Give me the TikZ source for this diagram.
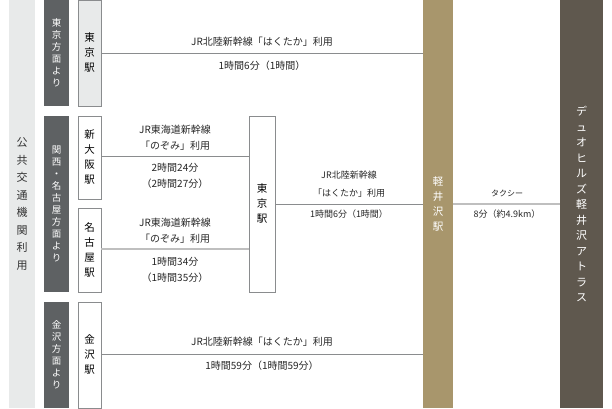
\documentclass[tikz,border=0pt]{standalone}
\usepackage{fontspec}
\setmainfont{Noto Sans CJK JP}
\usetikzlibrary{positioning}
\definecolor{palegray}{HTML}{E8EAEA}
\definecolor{slate}{HTML}{5E6163}
\definecolor{sand}{HTML}{A8966C}
\definecolor{umber}{HTML}{5F584E}
\definecolor{rule}{HTML}{8A8C8E}
\begin{document}
\begin{tikzpicture}[x=1bp,y=-1bp,inner sep=0pt]
 \tikzstyle{bar}=[draw=none,minimum width=26bp,align=center]
 \tikzstyle{area}=[fill=slate,text=white,minimum width=25bp,align=center,font=\fontsize{9.5bp}{12bp}\selectfont]
 \tikzstyle{stn}=[draw=rule,fill=white,minimum width=23bp,align=center,font=\fontsize{10.5bp}{15bp}\selectfont]
 \tikzstyle{lbl}=[align=center,text=black!85,font=\fontsize{10bp}{16bp}\selectfont]
 \tikzstyle{route}=[draw=rule,line width=0.8bp]
 \useasboundingbox (0,0) rectangle (612,408);

 \node (public) at (22,204) [bar,fill=palegray,minimum height=408bp,text=black!80,font=\fontsize{11bp}{17.5bp}\selectfont] {公\\共\\交\\通\\機\\関\\利\\用};

 \node (fromtokyo) at (56.5,53) [area,minimum height=106bp] {東\\京\\方\\面\\よ\\り};
 \node (fromkansai) at (56.5,204) [area,minimum height=176bp] {関\\西\\・\\名\\古\\屋\\方\\面\\よ\\り};
 \node (fromkanazawa) at (56.5,355) [area,minimum height=106bp] {金\\沢\\方\\面\\よ\\り};

 \node (tokyo) at (89.5,53) [stn,fill=palegray,minimum height=106bp] {東\\京\\駅};
 \node (osaka) at (89.5,157.5) [stn,minimum height=83bp] {新\\大\\阪\\駅};
 \node (nagoya) at (89.5,250) [stn,minimum height=84bp] {名\\古\\屋\\駅};
 \node (kanazawa) at (89.5,355) [stn,minimum height=106bp] {金\\沢\\駅};
 \node (tokyoT) at (262,204) [stn,minimum width=26bp,minimum height=176bp] {東\\京\\駅};

 \node (karuizawa) at (438,204) [bar,fill=sand,minimum width=30bp,minimum height=408bp,text=white,font=\fontsize{10.5bp}{15bp}\selectfont] {軽\\井\\沢\\駅};
 \node (atlas) at (581.5,204) [bar,fill=umber,minimum width=43bp,minimum height=408bp,text=white,font=\fontsize{11bp}{15.5bp}\selectfont] {デ\\ュ\\オ\\ヒ\\ル\\ズ\\軽\\井\\沢\\ア\\ト\\ラ\\ス};

 \draw [route] (tokyo.east) -- (tokyo.east -| karuizawa.west);
 \draw [route] (osaka.east |- 0,156) -- (tokyoT.west |- 0,156);
 \draw [route,draw=black!25,line width=1.2bp] (nagoya.east |- 0,249) -- (tokyoT.west |- 0,249);
 \draw [route] (tokyoT.east) -- (karuizawa.west);
 \draw [route,draw=black!25,line width=2bp] (karuizawa.east) -- (atlas.west);
 \draw [route] (kanazawa.east |- 0,354) -- (kanazawa.east |- 0,354 -| karuizawa.west);

 \node (l1) at (262,42) [lbl] {JR北陸新幹線「はくたか」利用};
 \node (t1) at (262,66) [lbl] {1時間6分（1時間）};
 \node (l2) at (175,138) [lbl] {JR東海道新幹線\\「のぞみ」利用};
 \node (t2) at (175,176) [lbl] {2時間24分\\（2時間27分）};
 \node (l3) at (175,231) [lbl] {JR東海道新幹線\\「のぞみ」利用};
 \node (t3) at (175,270) [lbl] {1時間34分\\（1時間35分）};
 \node (l4) at (349,184.5) [lbl,font=\fontsize{9bp}{18bp}\selectfont] {JR北陸新幹線\\「はくたか」利用};
 \node (t4) at (349,214) [lbl,font=\fontsize{9bp}{12bp}\selectfont] {1時間6分（1時間）};
 \node (l5) at (507,193) [lbl,font=\fontsize{8bp}{10bp}\itshape] {タクシー};
 \node (t5) at (507,214) [lbl,font=\fontsize{9bp}{12bp}\selectfont] {8分（約4.9km）};
 \node (l6) at (262,342) [lbl] {JR北陸新幹線「はくたか」利用};
 \node (t6) at (262,366) [lbl] {1時間59分（1時間59分）};
\end{tikzpicture}
\end{document}
